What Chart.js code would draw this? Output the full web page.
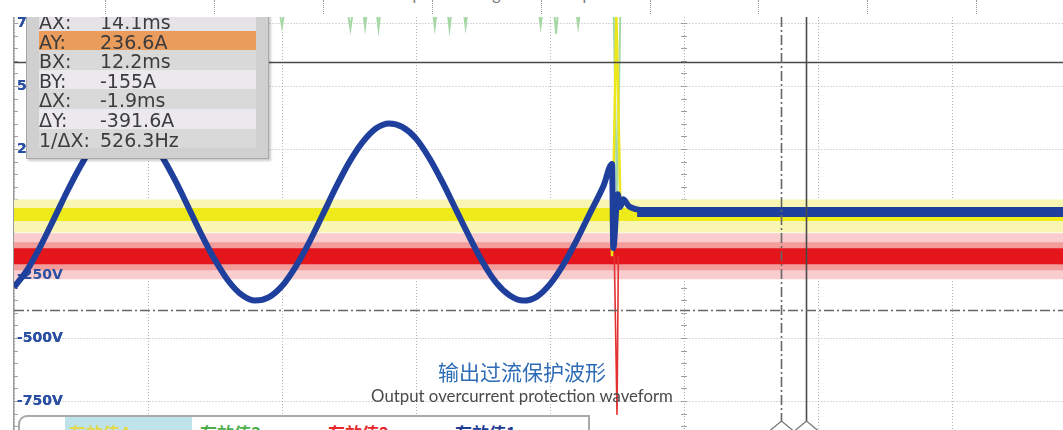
<!DOCTYPE html>
<html>
<head>
<meta charset="utf-8">
<script src="https://cdn.jsdelivr.net/npm/chart.js@4.4.1/dist/chart.umd.min.js"></script>
<style>
  html, body { margin: 0; padding: 0; background: #fff; }
  #wrap { position: relative; width: 1063px; height: 430px; overflow: hidden; }
  #scope { position: absolute; left: 0; top: 0; }
  #topStrip { position: absolute; left: 0; top: 0; width: 1063px; height: 17px; background: #fff; z-index: 5; overflow: hidden; }
  #topStrip .mark { position: absolute; top: 0; height: 14px; border-left: 1px dotted #9a9a9a; }
  #topCaption { position: absolute; left: 0; top: -14px; width: 1046px; text-align: center; font: 16px Lato, "Open Sans", sans-serif; line-height: 16px; color: #777; }
  #cursorBox { position: absolute; left: 26px; top: 8px; width: 241px; height: 149px; background: #d0d0d0; border: 1px solid #a8a8a8; box-shadow: 2px 2px 2px rgba(0,0,0,0.2); z-index: 2; }
  #cursorRows { position: absolute; left: 12px; top: 2px; width: 217px; }
  .crow { height: 19.6px; line-height: 19.6px; font: 19px "DejaVu Sans", sans-serif; color: #3c3c3c; white-space: nowrap; }
  .crow span { display: inline-block; width: 61px; }
  #title { position: absolute; left: 0; top: 359px; width: 1044px; text-align: center; z-index: 2; }
  #title .zh { font: 21px "Noto Sans CJK SC", sans-serif; line-height: 24px; color: #2e6cb5; }
  #title .en { font: 16.8px Lato, "Open Sans", sans-serif; line-height: 18px; color: #4a4a4a; margin-top: 4px; }
  #legendBox { position: absolute; left: 18px; top: 415px; width: 568px; height: 30px; border: 2px solid #a9a9a9; border-top-left-radius: 9px; background: #fff; z-index: 3; }
  .lg { position: absolute; top: 7px; font: bold 17px "Noto Sans CJK SC", sans-serif; line-height: 17px; white-space: nowrap; }
</style>
</head>
<body>
<div id="wrap">
  <canvas id="scope" width="1063" height="430"></canvas>
  <div id="cursorBox"><div id="cursorRows"></div></div>
  <div id="title">
    <div class="zh">输出过流保护波形</div>
    <div class="en">Output overcurrent protection waveform</div>
  </div>
  <div id="legendBox"></div>
  <div id="topStrip"><div id="topCaption">Three-phase voltage stable output waveform</div></div>
</div>
<script>
// Axes: time in ms (10 ms/div), voltage 250 V/div, current 100 A/div
const timeGrid = [-45, -35, -25, -15, -5, 5, 15, 25];
const voltTicks = [-750, -500, -250, 0, 250, 500, 750];
const voltLabels = ['-750V', '-500V', '-250V', '', '250V', '500V', '750V'];

// Cursors
const cursorA = { t: 14.1, amp: 236.6 };
const cursorB = { t: 12.2, amp: -155 };

// 有效值1 - output current (A), blue
const blueT = [-45, -44, -43, -42, -41, -40, -39, -38, -37, -36, -35, -34, -33, -32, -31,
  -30, -29, -28, -27, -26, -25, -24, -23, -22, -21, -20, -19, -18, -17, -16, -15,
  -14, -13, -12, -11, -10, -9, -8, -7, -6, -5, -4, -3, -2, -1,
  -0.37, -0.28, 0.05, 0.25, 0.45, 0.9, 1.8, 3, 33.3];
const blueA = [-119, -91, -53, -10, 34, 74, 108, 130, 140, 136, 118, 89, 51, 8, -36,
  -76, -109, -131, -140, -135, -117, -87, -49, -6, 38, 78, 110, 132, 140, 134, 116,
  85, 46, 3, -40, -80, -112, -132, -140, -134, -114, -83, -44, -1, 42,
  76, -57, 28, 8, 20, 9, 3, 0, 0];
const blueTailT = [1.5, 33.3];
const blueTailA = [0, 0];

// 有效值4 - yellow channel (V)
const yellowT = [-45, 33.3];
const yellowV = [-10, -10];
const yellowNoiseV = [-16, -16];
const yellowSpikeT = [-0.45, -0.37, -0.05, 0.25, 0.5];
const yellowSpikeV = [-10, -175, 790, 40, -10];

// 有效值2 - red channel (V)
const redT = [-45, 33.3];
const redV = [-175, -175];
const redSpikeT = [-0.2, 0.0, 0.1];
const redSpikeV = [-175, -805, -175];

// 有效值3 - green channel (V), mostly above the screen
const greenT = [-45, -25.2, -25.0, -24.8, -20.1, -19.9, -19.7, -18.95, -18.8, -18.65,
  -17.95, -17.8, -17.65, -13.75, -13.6, -13.45, -12.65, -12.5, -12.35, -11.45, -11.3, -11.15,
  -5.85, -5.7, -5.55, -4.7, -4.55, -4.4, -3.05, -2.9, -2.75, -0.25, 0.0, 0.25, 33.3];
const greenV = [800, 800, 738, 800, 800, 728, 800, 800, 735, 800,
  800, 730, 800, 800, 735, 800, 800, 730, 800, 800, 738, 800,
  800, 740, 800, 800, 708, 800, 800, 740, 800, 800, 35, 800, 800];

// Cursor readout
const cursorLabels = ['AX:', 'AY:', 'BX:', 'BY:', 'ΔX:', 'ΔY:', '1/ΔX:'];
const cursorValues = [
  cursorA.t + 'ms', cursorA.amp + 'A', cursorB.t + 'ms', cursorB.amp + 'A',
  (cursorB.t - cursorA.t).toFixed(1) + 'ms', (cursorB.amp - cursorA.amp).toFixed(1) + 'A',
  (1000 / Math.abs(cursorB.t - cursorA.t)).toFixed(1) + 'Hz'
];
const rowColors = ['#e5e3e7', '#e99c5c', '#d9d9d9', '#ebe9ee', '#d9d9d9', '#ebe9ee', '#d9d9d9'];

const legendNames = ['有效值4', '有效值3', '有效值2', '有效值1'];
const legendColors = ['#e2d84a', '#4cae4c', '#e8262a', '#1f3b94'];

// build html overlays
const rows = document.getElementById('cursorRows');
cursorLabels.forEach((lab, i) => {
  const r = document.createElement('div');
  r.className = 'crow';
  r.style.background = rowColors[i];
  r.innerHTML = '<span>' + lab + '</span>' + cursorValues[i];
  rows.appendChild(r);
});

const strip = document.getElementById('topStrip');
for (let k = 0; k < 9; k++) {
  const m = document.createElement('div');
  m.className = 'mark';
  m.style.left = (105 + k * 108.9) + 'px';
  strip.appendChild(m);
}

const lgBox = document.getElementById('legendBox');
const lgLeft = [49, 180, 308, 435];
legendNames.forEach((n, i) => {
  const d = document.createElement('div');
  d.className = 'lg';
  d.style.left = lgLeft[i] + 'px';
  d.style.color = legendColors[i];
  d.textContent = n;
  if (i === 0) {
    d.style.background = '#bfe3ea';
    d.style.top = '0px';
    d.style.paddingTop = '7px';
    d.style.paddingLeft = '4px';
    d.style.left = (lgLeft[i] - 4) + 'px';
    d.style.width = '123px';
  }
  lgBox.appendChild(d);
});

function pts(ts, vs) {
  return ts.map((t, i) => ({ x: t, y: vs[i] }));
}

const scopeDecor = {
  id: 'scopeDecor',
  beforeDatasetsDraw(chart) {
    const { ctx, chartArea: a, scales: { x, y } } = chart;
    const xc = x.getPixelForValue(5);
    const yc = y.getPixelForValue(0);
    ctx.save();
    ctx.strokeStyle = '#a0a0a0';
    ctx.lineWidth = 1;
    ctx.beginPath();
    for (let v = -850; v <= 750; v += 50) {
      const py = Math.round(y.getPixelForValue(v)) + 0.5;
      ctx.moveTo(a.left, py); ctx.lineTo(a.left + 4, py);
      ctx.moveTo(xc - 3, py); ctx.lineTo(xc + 3, py);
    }
    for (let t = -45; t <= 33; t += 2) {
      const px = Math.round(x.getPixelForValue(t)) + 0.5;
      ctx.moveTo(px, yc - 3); ctx.lineTo(px, yc + 3);
    }
    ctx.stroke();
    ctx.restore();
  },
  // voltage labels sit above the noise bands but under the current trace
  beforeDatasetDraw(chart, args) {
    if (args.index === 0) chart.scales.y.drawLabels(chart.chartArea);
  },
  afterDatasetsDraw(chart) {
    const { ctx, chartArea: a, scales: { x, yA } } = chart;
    const ay = Math.round(yA.getPixelForValue(cursorA.amp)) + 0.5;
    const by = Math.round(yA.getPixelForValue(cursorB.amp)) + 0.5;
    const ax = Math.round(x.getPixelForValue(cursorA.t)) + 0.5;
    const bx = Math.round(x.getPixelForValue(cursorB.t)) + 0.5;
    const apex = a.bottom - 9;
    ctx.save();
    ctx.lineWidth = 1.6;
    ctx.strokeStyle = '#4a4a4a';
    ctx.beginPath();
    ctx.moveTo(a.left, ay); ctx.lineTo(a.right, ay);
    ctx.moveTo(ax, a.top); ctx.lineTo(ax, apex);
    ctx.stroke();
    ctx.strokeStyle = '#666';
    ctx.setLineDash([10, 3, 2, 3]);
    ctx.beginPath();
    ctx.moveTo(a.left, by); ctx.lineTo(a.right, by);
    ctx.moveTo(bx, a.top); ctx.lineTo(bx, apex);
    ctx.stroke();
    ctx.setLineDash([]);
    ctx.strokeStyle = '#777';
    ctx.lineWidth = 1.3;
    ctx.beginPath();
    [bx, ax].forEach(px => {
      ctx.moveTo(px - 12, a.bottom + 1); ctx.lineTo(px, apex); ctx.lineTo(px + 12, a.bottom + 1);
    });
    ctx.stroke();
    ctx.restore();
  }
};

const common = { pointRadius: 0, clip: 0, fill: false, tension: 0 };

new Chart(document.getElementById('scope'), {
  type: 'line',
  data: {
    datasets: [
      { ...common, label: '有效值1', data: pts(blueT, blueA), yAxisID: 'yA', borderColor: '#1e3f9c', borderWidth: 6, cubicInterpolationMode: 'monotone', order: 1 },
      { ...common, label: '有效值1 band', data: pts(blueTailT, blueTailA), yAxisID: 'yA', borderColor: '#1e3f9c', borderWidth: 10, order: 2 },
      { ...common, label: '有效值4 spike', data: pts(yellowSpikeT, yellowSpikeV), yAxisID: 'y', borderColor: '#ece61c', borderWidth: 2.5, order: 3 },
      { ...common, label: '有效值4', data: pts(yellowT, yellowV), yAxisID: 'y', borderColor: '#efea1a', borderWidth: 13, order: 4 },
      { ...common, label: '有效值4 noise', data: pts(yellowT, yellowNoiseV), yAxisID: 'y', borderColor: '#f8f6b2', borderWidth: 33, order: 5 },
      { ...common, label: '有效值2 spike', data: pts(redSpikeT, redSpikeV), yAxisID: 'y', borderColor: '#e23232', borderWidth: 1.6, order: 6 },
      { ...common, label: '有效值2', data: pts(redT, redV), yAxisID: 'y', borderColor: '#e5151c', borderWidth: 16, order: 7 },
      { ...common, label: '有效值2 noise', data: pts(redT, redV), yAxisID: 'y', borderColor: '#f29c9c', borderWidth: 28, order: 8 },
      { ...common, label: '有效值2 noise outer', data: pts(redT, redV), yAxisID: 'y', borderColor: '#f9cdcd', borderWidth: 46, order: 9 },
      { ...common, label: '有效值3', data: pts(greenT, greenV), yAxisID: 'y', borderColor: '#a6d8a6', borderWidth: 2, order: 10 }
    ]
  },
  options: {
    responsive: false,
    animation: false,
    events: [],
    layout: { padding: { left: 14, top: 17, right: 0, bottom: 0 } },
    plugins: { legend: { display: false }, tooltip: { enabled: false } },
    scales: {
      x: {
        type: 'linear', min: -45, max: 33.28,
        afterBuildTicks: s => { s.ticks = timeGrid.map(v => ({ value: v })); },
        afterFit: s => { s.height = 0; s.paddingLeft = 0; s.paddingRight = 0; },
        ticks: { display: false },
        grid: { color: '#b4b4b4', lineWidth: 1, drawTicks: false },
        border: { display: false, dash: [1, 2] }
      },
      y: {
        type: 'linear', position: 'left', min: -865, max: 774,
        afterBuildTicks: s => { s.ticks = voltTicks.map(v => ({ value: v })); },
        afterFit: s => { s.width = 0; s.paddingTop = 0; s.paddingBottom = 0; },
        ticks: {
          mirror: true, padding: 3, color: '#2b4fa2',
          font: { family: 'DejaVu Sans', weight: 'bold', size: 14 },
          callback: (v, i) => voltLabels[i]
        },
        grid: { color: '#b4b4b4', lineWidth: 1, drawTicks: false },
        border: { display: true, color: '#9a9a9a', width: 1.5, dash: [1, 2] }
      },
      yA: { type: 'linear', display: false, min: -344.4, max: 308.1 }
    }
  },
  plugins: [scopeDecor]
});
</script>
</body>
</html>
